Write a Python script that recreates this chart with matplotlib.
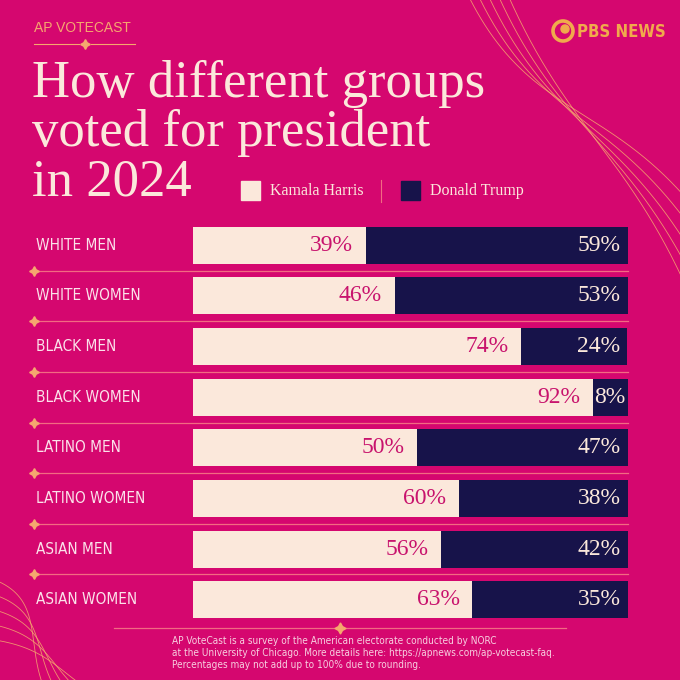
import matplotlib
matplotlib.use('Agg')

import matplotlib.pyplot as plt
import numpy as np
from matplotlib.transforms import blended_transform_factory
from matplotlib.patches import Rectangle, Circle

groups = ['WHITE MEN', 'WHITE WOMEN', 'BLACK MEN', 'BLACK WOMEN',
          'LATINO MEN', 'LATINO WOMEN', 'ASIAN MEN', 'ASIAN WOMEN']
harris = [39, 46, 74, 92, 50, 60, 56, 63]
trump = [59, 53, 24, 8, 47, 38, 42, 35]
candidates = ['Kamala Harris', 'Donald Trump']

BG = '#d5076f'
CREAM = '#fbe8db'
NAVY = '#17134a'
MAGENTA = '#c8136d'
GOLD = '#f5a86e'
SEP = '#f26b82'
LABEL = '#fbe2ea'

SANS = ['Liberation Sans', 'DejaVu Sans']
COND = ['DejaVu Sans']
SERIF = ['Liberation Serif', 'DejaVu Serif']

W = H = 680
fig = plt.figure(figsize=(6.8, 6.8), dpi=100, facecolor=BG)

# overlay in pixel coordinates for titles and ornaments
deco = fig.add_axes([0, 0, 1, 1])
deco.set_xlim(0, W)
deco.set_ylim(H, 0)
deco.axis('off')


def bezier(p0, p1, p2, p3):
    t = np.linspace(0, 1, 200)[:, None]
    pts = (1 - t) ** 3 * p0 + 3 * (1 - t) ** 2 * t * p1 \
        + 3 * (1 - t) * t ** 2 * p2 + t ** 3 * p3
    return pts[:, 0], pts[:, 1]


# decorative curves, top right
for k in range(5):
    xs, ys = bezier(np.array([468 + 10 * k, -5]), np.array([530 + 10 * k, 120 + 4 * k]),
                    np.array([610 + 6 * k, 100 + 14 * k]), np.array([700, 215 + 26 * k]))
    deco.plot(xs, ys, color=GOLD, lw=0.6, alpha=0.85)

# decorative curves, bottom left
for k in range(5):
    xs, ys = bezier(np.array([-5, 580 + 15 * k]), np.array([45, 600 + 12 * k]),
                    np.array([25 + 8 * k, 645 + 6 * k]), np.array([45 + 11 * k, 690]))
    deco.plot(xs, ys, color=GOLD, lw=0.6, alpha=0.85)

# kicker
deco.text(34, 28, 'AP VOTECAST', color=GOLD, fontsize=10, family=SANS,
          va='center', ha='left')
deco.plot([34, 79], [44, 44], color=GOLD, lw=0.8)
deco.plot([91, 135], [44, 44], color=GOLD, lw=0.8)
deco.plot(85, 44, marker=(4, 1, 0), ms=7, color=GOLD)

# logo
deco.add_patch(Circle((563, 31), 10, fill=False, ec='#f0aa4c', lw=2.6))
deco.add_patch(Circle((565, 29), 4, color='#f0aa4c'))
deco.text(577, 32, 'PBS NEWS', color='#f0aa4c', fontsize=12, family=COND,
          stretch='condensed', weight='bold', va='center', ha='left')

# title
title_lines = ['How different groups', 'voted for president', 'in 2024']
for i, line in enumerate(title_lines):
    deco.text(32, 97 + 49 * i, line, color=CREAM, fontsize=38, family=SERIF,
              va='baseline', ha='left')

# legend
leg_x = [241, 401]
leg_c = [CREAM, NAVY]
for x0, c, name in zip(leg_x, leg_c, candidates):
    deco.add_patch(Rectangle((x0, 181), 19, 19, color=c))
    deco.text(x0 + 29, 191, name, color=CREAM, fontsize=11.5, family=SERIF,
              va='center', ha='left')
deco.plot([381, 381], [180, 202], color=SEP, lw=0.8)

# bars
ax = fig.add_axes([192.5 / W, 1 - 625 / H, 435 / W, 405 / H])
ax.set_facecolor('none')
n = len(groups)
ax.set_xlim(0, 1)
ax.set_ylim(n - 0.5, -0.5)
ax.axis('off')

y = np.arange(n)
h = np.array(harris, dtype=float)
tr = np.array(trump, dtype=float)
share = h / (h + tr)
ax.barh(y, share, height=0.73, color=CREAM)
ax.barh(y, 1 - share, left=share, height=0.73, color=NAVY)

trans = blended_transform_factory(fig.transFigure, ax.transData)
for i in range(n):
    ax.annotate(f'{harris[i]}%', (share[i], i), xytext=(-9, 0),
                textcoords='offset points', ha='right', va='center',
                color=MAGENTA, fontsize=17, family=SERIF)
    if 1 - share[i] < 0.12:
        # narrow segment: centre the label in it
        ax.text((1 + share[i]) / 2, i, f'{trump[i]}%', ha='center', va='center',
                color=CREAM, fontsize=17, family=SERIF)
    else:
        ax.annotate(f'{trump[i]}%', (1, i), xytext=(-5, 0),
                    textcoords='offset points', ha='right', va='center',
                    color=CREAM, fontsize=17, family=SERIF)
    ax.text(36 / W, i, groups[i], transform=trans, ha='left', va='center',
            color=LABEL, fontsize=11, family=COND, stretch='condensed')
    if i < n - 1:
        ax.plot([34 / W, 628 / W], [i + 0.5, i + 0.5], transform=trans,
                clip_on=False, color=SEP, lw=0.9)
        ax.plot(34 / W, i + 0.5, transform=trans, clip_on=False,
                marker=(4, 1, 0), ms=7, color=GOLD)

# footer
deco.plot([114, 334], [628, 628], color=SEP, lw=0.9)
deco.plot([346, 566], [628, 628], color=SEP, lw=0.9)
deco.plot(340, 628, marker=(4, 1, 0), ms=8, color=GOLD)
notes = ['AP VoteCast is a survey of the American electorate conducted by NORC',
         'at the University of Chicago. More details here: https://apnews.com/ap-votecast-faq.',
         'Percentages may not add up to 100% due to rounding.']
for i, line in enumerate(notes):
    deco.text(172, 641 + 12 * i, line, color='#f7cfe0', fontsize=7.2,
              family=COND, stretch='condensed', va='center', ha='left')

fig.savefig('out.png', dpi=100, facecolor=BG)
